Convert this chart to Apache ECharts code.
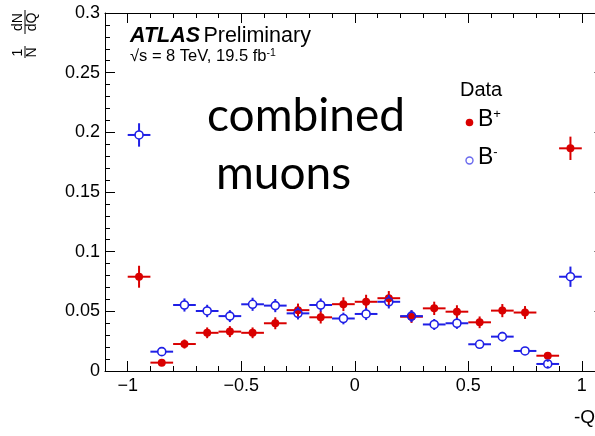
<!DOCTYPE html>
<html>
<head>
<meta charset="utf-8">
<script src="https://cdn.jsdelivr.net/npm/echarts@6/dist/echarts.min.js"></script>
<style>
  html, body { margin: 0; padding: 0; background: #fff; }
  #chart { width: 595px; height: 436px; }
</style>
</head>
<body>
<div id="chart"></div>
<script>
// bins of -Q, width 0.1
const binCenters = [-0.95, -0.85, -0.75, -0.65, -0.55, -0.45, -0.35, -0.25, -0.15, -0.05,
                    0.05, 0.15, 0.25, 0.35, 0.45, 0.55, 0.65, 0.75, 0.85, 0.95];
const binWidth = 0.1;

// B+ (red, filled)
const bPlus = [0.079, 0.007, 0.0226, 0.032, 0.033, 0.032, 0.040, 0.051, 0.045, 0.056,
               0.058, 0.061, 0.0455, 0.0525, 0.0497, 0.0408, 0.0506, 0.049, 0.0128, 0.1866];
const bPlusErr = [0.0092, 0.0022, 0.0038, 0.0045, 0.0046, 0.0045, 0.0050, 0.0055, 0.0052, 0.0058,
                  0.0059, 0.0060, 0.0052, 0.0056, 0.0054, 0.0049, 0.0055, 0.0054, 0.0028, 0.0098];

// B- (blue, open)
const bMinus = [0.1978, 0.0162, 0.0553, 0.0503, 0.046, 0.0559, 0.0548, 0.0483, 0.0553, 0.044,
                0.0478, 0.058, 0.046, 0.039, 0.040, 0.0224, 0.0288, 0.0168, 0.0059, 0.079];
const bMinusErr = [0.0098, 0.0030, 0.0055, 0.0052, 0.0050, 0.0055, 0.0055, 0.0051, 0.0055, 0.0049,
                   0.0051, 0.0056, 0.0050, 0.0046, 0.0047, 0.0035, 0.0040, 0.0031, 0.0018, 0.0085];

const xMajorTicks = [-1, -0.5, 0, 0.5, 1];

const RED = '#d90000';
const BLUE = '#1f1fe6';
const FONT = 'Liberation Sans';

const chart = echarts.init(document.getElementById('chart'), null, { renderer: 'canvas' });

function errorBars(color, hollow) {
  return function (params, api) {
    const x = api.value(0), y = api.value(1), e = api.value(2);
    const c = api.coord([x, y]);
    const l = api.coord([x - binWidth / 2, y]);
    const r = api.coord([x + binWidth / 2, y]);
    const t = api.coord([x, y + e]);
    const b = api.coord([x, Math.max(y - e, 0)]);
    const rad = 4;
    const gap = hollow ? rad : 0;
    const ls = () => ({ stroke: color, lineWidth: 2 });
    const kids = [
      { type: 'line', shape: { x1: l[0], y1: c[1], x2: c[0] - gap, y2: c[1] }, style: ls() },
      { type: 'line', shape: { x1: c[0] + gap, y1: c[1], x2: r[0], y2: c[1] }, style: ls() },
      { type: 'line', shape: { x1: c[0], y1: t[1], x2: c[0], y2: c[1] - gap }, style: ls() },
      { type: 'line', shape: { x1: c[0], y1: c[1] + gap, x2: c[0], y2: b[1] }, style: ls() },
      {
        type: 'circle', shape: { cx: c[0], cy: c[1], r: rad },
        style: hollow ? { fill: 'none', stroke: color, lineWidth: 1.6 } : { fill: color }
      }
    ];
    return { type: 'group', children: kids };
  };
}

const tickStyle = { color: '#000', width: 1 };

function rotText(txt, cx, cy) {
  return {
    type: 'text', x: cx, y: cy, rotation: Math.PI / 2,
    style: { text: txt, font: '14px ' + FONT, fill: '#000', align: 'center', verticalAlign: 'middle' }
  };
}

const option = {
  animation: false,
  backgroundColor: '#fff',
  grid: { left: 105, top: 13, width: 499.5, height: 358, containLabel: false, outerBoundsMode: 'none' },
  xAxis: [
    {
      type: 'value', min: -1.1, max: 1.1, interval: 0.1, position: 'bottom',
      axisLine: { show: true, onZero: false, lineStyle: tickStyle },
      axisTick: { show: true, inside: true, length: 5, lineStyle: tickStyle },
      axisLabel: { show: false }, splitLine: { show: false }
    },
    {
      type: 'value', min: -1.1, max: 1.1, position: 'bottom',
      axisLine: { show: false, onZero: false },
      axisTick: { show: true, inside: true, length: 10, customValues: xMajorTicks, lineStyle: tickStyle },
      axisLabel: {
        show: true, customValues: xMajorTicks, margin: 6, color: '#000', fontFamily: FONT, fontSize: 18,
        formatter: v => String(v).replace('-', '\u2212')
      },
      splitLine: { show: false }
    },
    {
      type: 'value', min: -1.1, max: 1.1, interval: 0.1, position: 'top',
      axisLine: { show: true, onZero: false, lineStyle: tickStyle },
      axisTick: { show: true, inside: true, length: 5, lineStyle: tickStyle },
      axisLabel: { show: false }, splitLine: { show: false }
    },
    {
      type: 'value', min: -1.1, max: 1.1, position: 'top',
      axisLine: { show: false, onZero: false },
      axisTick: { show: true, inside: true, length: 10, customValues: xMajorTicks, lineStyle: tickStyle },
      axisLabel: { show: false }, splitLine: { show: false }
    }
  ],
  yAxis: [
    {
      type: 'value', min: 0, max: 0.3, interval: 0.05, position: 'left',
      axisLine: { show: true, onZero: false, lineStyle: tickStyle },
      axisTick: { show: true, inside: true, length: 10, lineStyle: tickStyle },
      minorTick: { show: true, splitNumber: 5, length: 5, lineStyle: tickStyle },
      axisLabel: { show: true, margin: 5, color: '#000', fontFamily: FONT, fontSize: 18 },
      splitLine: { show: false }, minorSplitLine: { show: false }
    },
    {
      type: 'value', min: 0, max: 0.3, interval: 0.05, position: 'right',
      axisLine: { show: true, onZero: false, lineStyle: tickStyle },
      axisTick: { show: true, inside: true, length: 10, lineStyle: tickStyle },
      minorTick: { show: true, splitNumber: 5, length: 5, lineStyle: tickStyle },
      axisLabel: { show: false },
      splitLine: { show: false }, minorSplitLine: { show: false }
    }
  ],
  series: [
    {
      name: 'B+', type: 'custom', xAxisIndex: 0, yAxisIndex: 0, z: 3,
      renderItem: errorBars(RED, false),
      data: binCenters.map((x, i) => [x, bPlus[i], bPlusErr[i]])
    },
    {
      name: 'B-', type: 'custom', xAxisIndex: 0, yAxisIndex: 0, z: 4,
      renderItem: errorBars(BLUE, true),
      data: binCenters.map((x, i) => [x, bMinus[i], bMinusErr[i]])
    }
  ],
  graphic: [
    // y axis title: 1/N dN/dQ, rotated
    rotText('1', 18, 52.5),
    rotText('N', 32, 52.5),
    { type: 'line', shape: { x1: 25, y1: 46, x2: 25, y2: 58 }, style: { stroke: '#000', lineWidth: 1 } },
    rotText('dN', 18, 22),
    rotText('dQ', 32, 22),
    { type: 'line', shape: { x1: 25, y1: 10, x2: 25, y2: 34 }, style: { stroke: '#000', lineWidth: 1 } },
    {
      type: 'text', left: 130, top: 25,
      style: {
        text: '{b|ATLAS} {r|Preliminary}',
        rich: {
          b: { fontFamily: FONT, fontSize: 21.5, fontWeight: 'bold', fontStyle: 'italic', fill: '#000' },
          r: { fontFamily: FONT, fontSize: 21.5, fill: '#000' }
        }
      }
    },
    {
      type: 'text', left: 130, top: 48,
      style: {
        text: '{a|\u221As = 8 TeV, 19.5 fb}{s|-1}',
        rich: {
          a: { fontFamily: FONT, fontSize: 16.5, fill: '#000' },
          s: { fontFamily: FONT, fontSize: 10.5, fill: '#000', verticalAlign: 'top' }
        }
      }
    },
    {
      type: 'text', left: 207, top: 93,
      style: { text: 'combined', font: '46px Lato', fill: '#000' }
    },
    {
      type: 'text', left: 216, top: 151,
      style: { text: 'muons', font: '46px Lato', fill: '#000' }
    },
    // legend
    { type: 'text', left: 460, top: 80, style: { text: 'Data', font: '20px ' + FONT, fill: '#000' } },
    { type: 'circle', shape: { cx: 469.5, cy: 122.5, r: 3.8 }, style: { fill: RED } },
    {
      type: 'text', left: 478, top: 108,
      style: {
        text: '{b|B}{s|+}',
        rich: {
          b: { fontFamily: FONT, fontSize: 23, fill: '#000' },
          s: { fontFamily: FONT, fontSize: 13, fill: '#000', verticalAlign: 'top' }
        }
      }
    },
    { type: 'circle', shape: { cx: 469.5, cy: 160.5, r: 3.5 }, style: { fill: 'none', stroke: '#6a6aee', lineWidth: 1.4 } },
    {
      type: 'text', left: 478, top: 146,
      style: {
        text: '{b|B}{s|-}',
        rich: {
          b: { fontFamily: FONT, fontSize: 23, fill: '#000' },
          s: { fontFamily: FONT, fontSize: 13, fill: '#000', verticalAlign: 'top' }
        }
      }
    },
    { type: 'text', left: 574, top: 408, style: { text: '-Q', font: '19px ' + FONT, fill: '#000' } }
  ]
};

chart.setOption(option);
</script>
</body>
</html>
